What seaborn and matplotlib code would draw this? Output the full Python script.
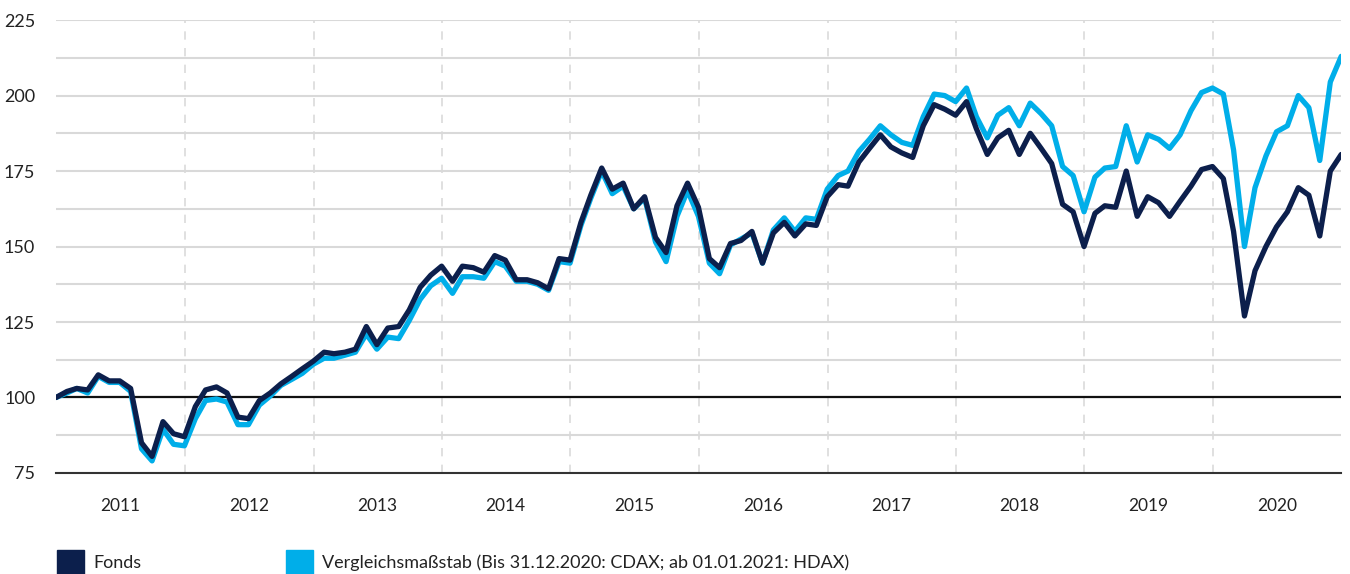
import pandas as pd
import numpy as np
import matplotlib
matplotlib.use("Agg")
import matplotlib.pyplot as plt
from matplotlib.patches import Patch
import seaborn as sns

# Monthly index values, 31.12.2010 = 100
dates = pd.date_range("2010-12-31", periods=121, freq="ME")

fonds = [
    100, 102, 103, 102.5, 107.5, 105.5, 105.5, 103, 85, 80.5, 92, 88,
    87, 97, 102.5, 103.5, 101.5, 93.5, 93, 99, 101.5, 104.5, 107, 109.5,
    112, 115, 114.5, 115, 116, 123.5, 117.5, 123, 123.5, 129, 136.5, 140.5,
    143.5, 138.5, 143.5, 143, 141.5, 147, 145.5, 139, 139, 138, 136, 146,
    145.5, 158, 167, 176, 169, 171, 162.5, 166.5, 153, 148, 163.5, 171,
    163, 146, 143, 151, 152, 155, 144.5, 154.5, 158, 153.5, 157.5, 157,
    166.5, 170.5, 170, 178, 182.5, 187, 183, 181, 179.5, 190, 197, 195.5,
    193.5, 198, 189, 180.5, 186, 188.5, 180.5, 187.5, 182.5, 177.5, 164, 161.5,
    150, 161, 163.5, 163, 175, 160, 166.5, 164.5, 160, 165, 170, 175.5,
    176.5, 172.5, 155, 127, 142, 150, 156.5, 161.5, 169.5, 167, 153.5, 175,
    180.5,
]

benchmark = [
    100, 101.5, 103, 101.5, 107, 105, 105, 102, 83, 79, 89.5, 84.5,
    84, 93, 99, 99.5, 98.5, 91, 91, 97.5, 100.5, 104, 106, 108,
    111, 113, 113, 114, 115, 121, 116, 120, 119.5, 125.5, 132.5, 137,
    139.5, 134.5, 140, 140, 139.5, 145, 143.5, 138.5, 138.5, 137.5, 135.5, 145,
    144.5, 157, 166, 175, 167.5, 170, 162.5, 166, 151.5, 145, 160, 168.5,
    160, 144.5, 141, 150.5, 152.5, 154.5, 144.5, 155.5, 159.5, 155, 159.5, 159,
    169, 173.5, 175, 181.5, 185.5, 190, 187, 184.5, 183.5, 193, 200.5, 200,
    198, 202.5, 193, 186, 193.5, 196, 190, 197.5, 194, 190, 176.5, 173.5,
    161.5, 173, 176, 176.5, 190, 178, 187, 185.5, 182.5, 187, 195, 201,
    202.5, 200.5, 182, 150, 169.5, 180, 188, 190, 200, 196, 178.5, 204.5,
    213,
]

series_names = ["Vergleichsmaßstab (Bis 31.12.2020: CDAX; ab 01.01.2021: HDAX)", "Fonds"]
y_ticks = [75, 100, 125, 150, 175, 200, 225]
years = list(range(2011, 2021))

navy = "#0c1f4c"
light_blue = "#00aee9"

df = pd.DataFrame({
    "Datum": np.concatenate([dates, dates]),
    "Wert": benchmark + fonds,
    "Serie": [series_names[0]] * len(dates) + [series_names[1]] * len(dates),
})

sns.set_style("white")
plt.rcParams["font.family"] = ["Lato", "DejaVu Sans"]

fig = plt.figure(figsize=(13.5, 5.74), dpi=100)
ax = fig.add_axes([0.0415, 0.176, 0.952, 0.789])

# grid
for v in np.arange(75, 225.1, 12.5):
    ax.axhline(v, color="#d9d9d9", lw=1.5, zorder=0)
for yr in years[1:]:
    ax.axvline(pd.Timestamp(f"{yr}-01-01"), color="#dadada", lw=1.2,
               ls=(0, (5, 5)), zorder=0)
ax.axhline(100, color="#111111", lw=1.6, zorder=1)

sns.lineplot(data=df, x="Datum", y="Wert", hue="Serie",
             palette={series_names[0]: light_blue, series_names[1]: navy},
             lw=3.8, legend=False, ax=ax, zorder=3)

ax.set_xlim(pd.Timestamp("2010-12-31"), pd.Timestamp("2020-12-31"))
ax.set_ylim(75, 225)
ax.set_yticks(y_ticks)
ax.set_xticks([pd.Timestamp(f"{yr}-07-01") for yr in years])
ax.set_xticklabels([str(yr) for yr in years])
ax.set_xlabel("")
ax.set_ylabel("")

for s in ["top", "right", "left"]:
    ax.spines[s].set_visible(False)
ax.spines["bottom"].set_color("#333333")
ax.spines["bottom"].set_linewidth(1.5)
ax.spines["bottom"].set_zorder(4)

ax.tick_params(axis="x", direction="out", length=11, width=1.2, color="#333333",
               labelsize=12.5, labelcolor="#222222", pad=7)
ax.tick_params(axis="y", length=0, labelsize=13, labelcolor="#222222", pad=15)

handles = [Patch(color=navy, label=series_names[1]),
           Patch(color=light_blue, label=series_names[0])]
fig.legend(handles=handles, loc="upper left", bbox_to_anchor=(57 / 1350, 1 - 550 / 574),
           ncol=2, frameon=False, fontsize=13, handlelength=1.5, handleheight=1.7,
           handletextpad=0.5, columnspacing=8.0, borderpad=0, borderaxespad=0,
           labelcolor="#222222")

fig.savefig("out.png", dpi=100)
